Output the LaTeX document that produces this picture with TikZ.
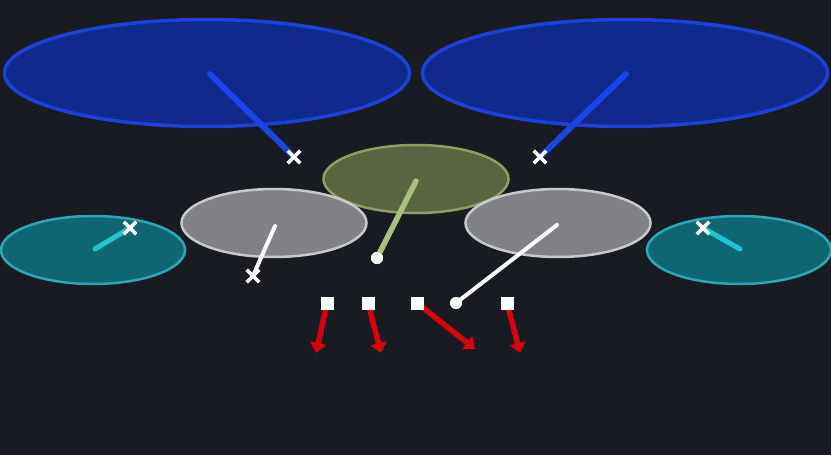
\documentclass[tikz,border=0pt]{standalone}
\usetikzlibrary{shapes.geometric,shapes.misc,arrows.meta}
\definecolor{bg}{HTML}{181B21}
\definecolor{bluefill}{HTML}{0F2A8C}
\definecolor{blueedge}{HTML}{1C40D8}
\definecolor{blueline}{HTML}{1A44E4}
\definecolor{olivefill}{HTML}{5A6441}
\definecolor{oliveedge}{HTML}{8E9E64}
\definecolor{oliveline}{HTML}{A9C080}
\definecolor{grayfill}{HTML}{808185}
\definecolor{grayedge}{HTML}{C8C8C8}
\definecolor{tealfill}{HTML}{0E6671}
\definecolor{tealedge}{HTML}{2AA8B4}
\definecolor{tealline}{HTML}{22C3D3}
\definecolor{redarrow}{HTML}{D8000F}
\tikzset{
  blob/.style={ellipse, inner sep=0pt, line width=2.5pt},
  bigblob/.style={blob, line width=3.5pt, minimum width=405pt, minimum height=107pt, fill=bluefill, draw=blueedge},
  oliveblob/.style={blob, minimum width=185pt, minimum height=68pt, fill=olivefill, draw=oliveedge},
  grayblob/.style={blob, minimum width=185pt, minimum height=68pt, fill=grayfill, draw=grayedge},
  tealblob/.style={blob, minimum width=184pt, minimum height=68pt, fill=tealfill, draw=tealedge},
  xmark/.style={cross out, draw=white, line width=3.4pt, minimum size=9pt, inner sep=0pt},
  dotmark/.style={circle, fill=white, minimum size=12pt, inner sep=0pt},
  sqmark/.style={rectangle, fill=white, minimum size=13pt, inner sep=0pt},
  link/.style={line width=#1, line cap=round},
  redlink/.style={draw=redarrow, line width=5.5pt, -{Triangle[width=16pt, length=10pt]}}
}
\begin{document}
\begin{tikzpicture}[x=1pt,y=-1pt]
\fill[bg] (0,0) rectangle (831,455);
\useasboundingbox (0,0) rectangle (831,455);
% ellipses
\node[bigblob] (bl) at (207,73) {};
\node[bigblob] (br) at (625,73) {};
\node[oliveblob] (ol) at (416,179) {};
\node[grayblob] (gl) at (274,223) {};
\node[grayblob] (gr) at (558,223) {};
\node[tealblob] (tl) at (93,250) {};
\node[tealblob] (tr) at (739,250) {};
% markers
\node[xmark] (xbl) at (294,157) {};
\node[xmark] (xbr) at (540,157) {};
\node[xmark] (xgl) at (253,276) {};
\node[xmark] (xtl) at (130,228) {};
\node[xmark] (xtr) at (703,228) {};
\node[dotmark] (dol) at (377,258) {};
\node[dotmark] (dgr) at (456,303) {};
\node[sqmark] (s1) at (327,303) {};
\node[sqmark] (s2) at (368,303) {};
\node[sqmark] (s3) at (417,303) {};
\node[sqmark] (s4) at (507,303) {};
% anchor points inside ellipses
\coordinate (cbl) at (210,74);
\coordinate (cbr) at (626,74);
\coordinate (col) at (416,181);
\coordinate (cgl) at (275,226);
\coordinate (cgr) at (557,225);
\coordinate (ctl) at (95,249);
\coordinate (ctr) at (740,249);
% red arrow ends
\coordinate (e1) at (316,353);
\coordinate (e2) at (381,353);
\coordinate (e3) at (475,349);
\coordinate (e4) at (520,353);
% connectors
\draw[link=6pt, blueline] (cbl) -- (xbl.center);
\draw[link=6pt, blueline] (cbr) -- (xbr.center);
\draw[link=5.5pt, oliveline] (col) -- (dol.center);
\draw[link=4pt, white] (cgl) -- (xgl.center);
\draw[link=4pt, white] (cgr) -- (dgr.center);
\draw[link=5pt, tealline] (ctl) -- (xtl.center);
\draw[link=5pt, tealline] (ctr) -- (xtr.center);
\node[xmark] at (xbl) {};
\node[xmark] at (xbr) {};
\node[xmark] at (xgl) {};
\node[xmark] at (xtl) {};
\node[xmark] at (xtr) {};
\node[dotmark] at (dol) {};
\node[dotmark] at (dgr) {};
\draw[redlink] (s1.center) -- (e1);
\draw[redlink] (s2.center) -- (e2);
\draw[redlink] (s3.center) -- (e3);
\draw[redlink] (s4.center) -- (e4);
\node[sqmark] at (s1) {};
\node[sqmark] at (s2) {};
\node[sqmark] at (s3) {};
\node[sqmark] at (s4) {};
\end{tikzpicture}
\end{document}
